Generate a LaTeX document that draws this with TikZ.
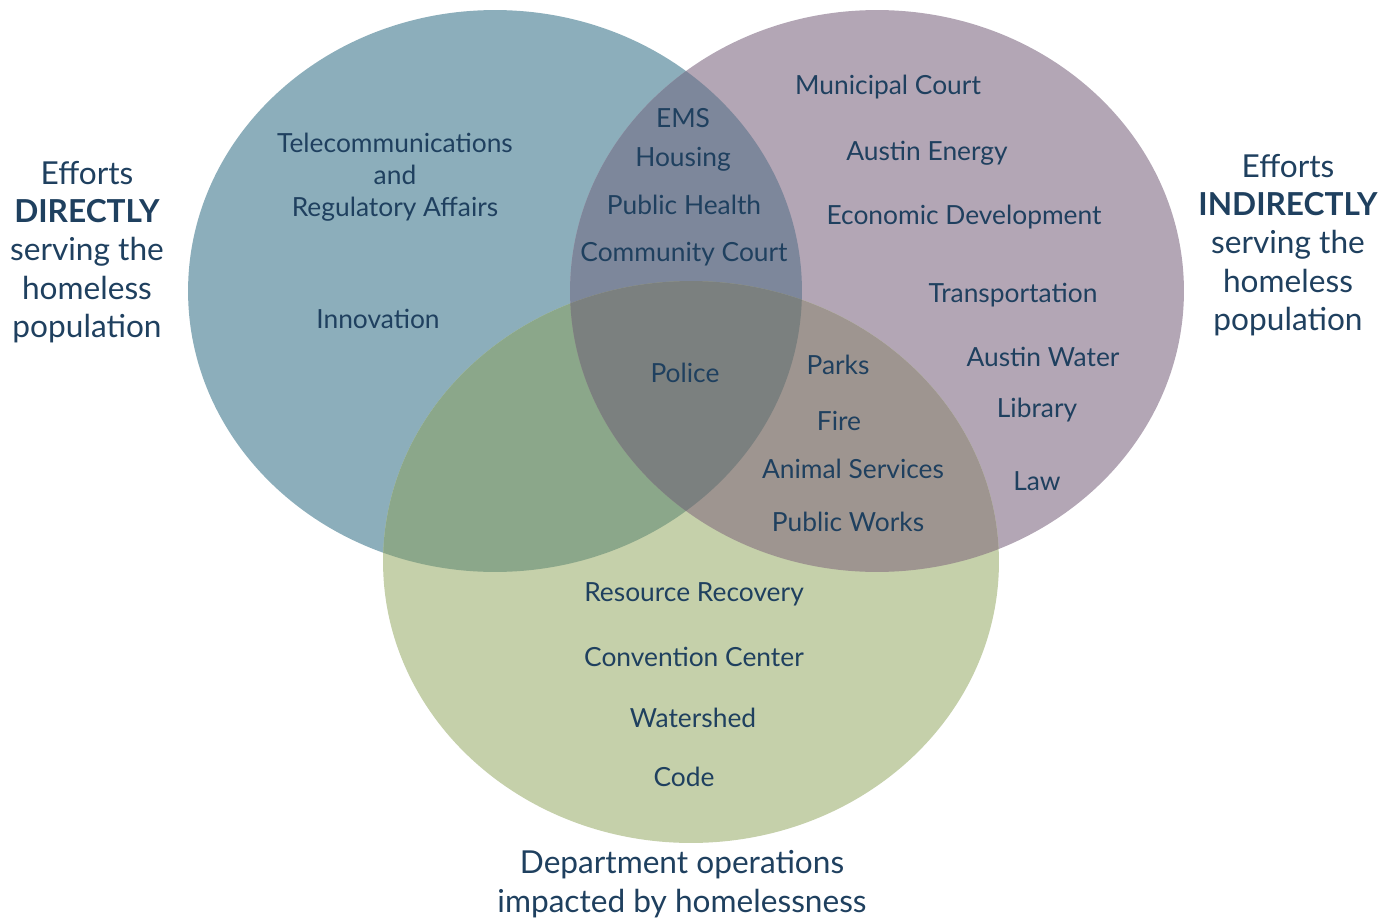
\documentclass[tikz,border=0pt]{standalone}
\usepackage{fontspec}
\setmainfont{Lato}
\usepackage{xcolor}
\usepackage{tikz}
\usetikzlibrary{positioning}

\definecolor{navytext}{HTML}{1F405F}
\definecolor{blueset}{HTML}{8CAEBB}
\definecolor{purpset}{HTML}{B3A6B5}
\definecolor{greenset}{HTML}{C5D0AA}
\definecolor{bluepurp}{HTML}{7D879B}
\definecolor{bluegreen}{HTML}{8BA78A}
\definecolor{purpgreen}{HTML}{9E9590}
\definecolor{allsets}{HTML}{7B807F}

\newcommand{\directset}{(495,291) ellipse [x radius=6.14cm, y radius=5.62cm]}
\newcommand{\indirectset}{(877,291) ellipse [x radius=6.14cm, y radius=5.62cm]}
\newcommand{\impactset}{(691,562) ellipse [x radius=6.16cm, y radius=5.62cm]}

\begin{document}
\begin{tikzpicture}[
    x=0.02cm, y=-0.02cm,
    dept/.style={font=\fontsize{15}{18.1}\selectfont, text=navytext, inner sep=0pt, yshift=-0.05cm},
    side/.style={font=\fontsize{18}{21.8}\selectfont, text=navytext, align=center, inner sep=0pt, yshift=-0.04cm}
]
\useasboundingbox (0,0) rectangle (1395,919);

% Sets
\fill[blueset] \directset;
\fill[purpset] \indirectset;
\fill[greenset] \impactset;

% Overlaps
\begin{scope}
  \clip \directset;
  \fill[bluepurp] \indirectset;
  \fill[bluegreen] \impactset;
\end{scope}
\begin{scope}
  \clip \indirectset;
  \fill[purpgreen] \impactset;
  \clip \directset;
  \fill[allsets] \impactset;
\end{scope}

% Direct only
\node[dept, align=center] (telecom) at (395,175) {Telecommunications\\and\\Regulatory Affairs};
\node[dept] (innov) at (378,316) {Innovation};

% Direct and indirect
\node[dept] (ems) at (683,116) {EMS};
\node[dept] (housing) at (683,157) {Housing};
\node[dept] (health) at (684,202) {Public Health};
\node[dept] (commct) at (684,252) {Community Court};

% All three
\node[dept] (police) at (685,370) {Police};

% Indirect only
\node[dept] (muni) at (888,85) {Municipal Court};
\node[dept] (energy) at (927,151) {Austin Energy};
\node[dept] (econ) at (964,215) {Economic Development};
\node[dept] (transp) at (1013,293) {Transportation};
\node[dept] (water) at (1043,354) {Austin Water};
\node[dept] (library) at (1037,408) {Library};
\node[dept] (law) at (1037,479) {Law};

% Indirect and impacted
\node[dept] (parks) at (838,362) {Parks};
\node[dept] (fire) at (839,418) {Fire};
\node[dept] (animal) at (853,466) {Animal Services};
\node[dept] (works) at (848,519) {Public Works};

% Impacted only
\node[dept] (recovery) at (694,592) {Resource Recovery};
\node[dept] (convention) at (694,654) {Convention Center};
\node[dept] (watershed) at (693,715) {Watershed};
\node[dept] (code) at (684,774) {Code};

% Set labels
\node[side] (directlbl) at (87,250) {Efforts\\\textbf{DIRECTLY}\\serving the\\homeless\\population};
\node[side] (indirectlbl) at (1288,243) {Efforts\\\textbf{INDIRECTLY}\\serving the\\homeless\\population};
\node[side] (impactlbl) at (682,882) {Department operations\\impacted by homelessness};
\end{tikzpicture}
\end{document}
